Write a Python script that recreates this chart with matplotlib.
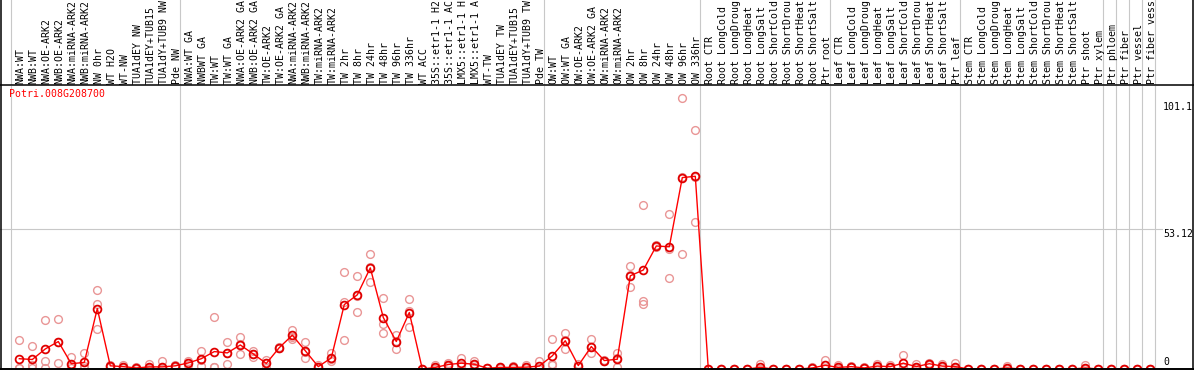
import matplotlib
matplotlib.use("Agg")
import matplotlib.pyplot as plt

plt.rcParams["font.family"] = "DejaVu Sans Mono"

# sample names, one per column (the header only has room for 14 characters)
labels = [
    "NWA:WT", "NWB:WT", "NWA:OE-ARK2", "NWB:OE-ARK2", "NWA:miRNA-ARK2", "NWB:miRNA-ARK2",
    "NW 0hr", "WT H2O", "WT-NW", "TUA1dEY NW", "TUA1dEY+TUB15 NW", "TUA1dY+TUB9 NW", "Pde NW",
    "NWA:WT GA", "NWBWT GA", "TW:WT", "TW:WT GA", "NWA:OE-ARK2 GA", "NWB:OE-ARK2 GA",
    "TW:OE-ARK2", "TW:OE-ARK2 GA", "NWA:miRNA-ARK2 GA", "NWB:miRNA-ARK2 GA", "TW:miRNA-ARK2",
    "TW:miRNA-ARK2 GA", "TW 2hr", "TW 8hr", "TW 24hr", "TW 48hr", "TW 96hr", "TW 336hr", "WT ACC",
    "35S::etr1-1 H2O", "35S::etr1-1 ACC", "LMX5::etr1-1 H2O", "LMX5::etr1-1 ACC", "WT-TW",
    "TUA1dEY TW", "TUA1dEY+TUB15 TW", "TUA1dY+TUB9 TW", "Pde TW",
    "OW:WT", "OW:WT GA", "OW:OE-ARK2", "OW:OE-ARK2 GA", "OW:miRNA-ARK2", "OW:miRNA-ARK2 GA",
    "OW 2hr", "OW 8hr", "OW 24hr", "OW 48hr", "OW 96hr", "OW 336hr",
    "Root CTR", "Root LongCold", "Root LongDrought", "Root LongHeat", "Root LongSalt",
    "Root ShortCold", "Root ShortDrought", "Root ShortHeat", "Root ShortSalt", "Ptr root",
    "Leaf CTR", "Leaf LongCold", "Leaf LongDrought", "Leaf LongHeat", "Leaf LongSalt",
    "Leaf ShortCold", "Leaf ShortDrought", "Leaf ShortHeat", "Leaf ShortSalt", "Ptr leaf",
    "Stem CTR", "Stem LongCold", "Stem LongDrought", "Stem LongHeat", "Stem LongSalt",
    "Stem ShortCold", "Stem ShortDrought", "Stem ShortHeat", "Stem ShortSalt", "Ptr shoot",
    "Ptr xylem", "Ptr phloem", "Ptr fiber", "Ptr vessel", "Ptr fiber vessel",
]

# mean expression per sample
means = [
    3.9, 3.6, 7.6, 10.4, 2.0, 2.5, 22.9, 1.2, 0.9, 0.4, 0.8, 0.8, 1.2,
    2.3, 3.9, 6.6, 6.1, 9.1, 5.7, 2.1, 8.1, 12.8, 6.9, 0.9, 4.2, 24.4, 28.1, 38.3, 19.5,
    10.4, 21.4, 0.0, 0.6, 1.7, 2.2, 1.8, 0.3, 0.6, 0.6, 0.7, 1.1,
    5.0, 10.7, 1.3, 8.5, 3.2, 3.7, 35.3, 37.5, 46.6, 46.3, 72.5, 73.0,
    0.0, 0.0, 0.0, 0.0, 0.6, 0.0, 0.0, 0.0, 0.4, 1.4,
    0.6, 0.9, 0.4, 1.1, 0.9, 2.2, 0.9, 2.0, 1.1, 0.9,
    0.0, 0.0, 0.0, 0.4, 0.0, 0.0, 0.0, 0.0, 0.0, 0.4, 0.0,
    0.0, 0.0, 0.0, 0.0,
]

# individual replicates
rep1 = [
    11.0, 8.8, 18.6, 19.0, 4.5, 6.1, 29.9, 1.5, 1.4, 0.8, 1.9, 3.0, 1.2,
    3.0, 7.0, 19.8, 10.4, 12.0, 6.7, 3.5, 8.5, 14.9, 10.3, 1.7, 6.0, 36.7, 35.2, 43.5, 26.9,
    12.9, 26.5, 0.0, 1.5, 2.4, 4.1, 3.1, 0.4, 0.9, 1.1, 1.5, 3.0,
    11.5, 13.8, 1.8, 11.2, 3.0, 6.1, 39.1, 62.1, 47.1, 58.7, 102.5, 90.4,
    0.0, 0.0, 0.0, 0.0, 1.8, 0.0, 0.0, 0.0, 0.8, 3.4,
    1.4, 1.1, 0.8, 1.8, 1.4, 5.3, 1.8, 2.4, 1.8, 2.2,
    0.0, 0.0, 0.0, 1.2, 0.0, 0.0, 0.0, 0.0, 0.0, 1.5, 0.0,
    0.0, 0.0, 0.0, 0.0,
]
rep2 = [
    0.4, 0.4, 3.1, 2.1, 0.4, 0.4, 24.6, 1.2, 0.9, 0.3, 0.4, 0.2, 1.5,
    2.3, 1.2, 0.9, 2.0, 5.7, 4.7, 0.4, 7.9, 11.2, 4.0, 0.6, 3.0, 11.0, 21.6, 32.8, 16.9,
    7.6, 15.8, 0.0, 0.2, 1.5, 1.5, 1.5, 0.3, 0.5, 0.4, 0.4, 0.2,
    2.0, 7.5, 1.1, 6.1, 3.4, 0.7, 31.2, 25.9, 46.2, 34.6, 43.7, 55.8,
    0.0, 0.0, 0.0, 0.0, 0.0, 0.0, 0.0, 0.0, 0.2, 0.4,
    0.3, 0.9, 0.2, 0.8, 0.8, 0.7, 0.5, 2.0, 0.8, 0.3,
    0.0, 0.0, 0.0, 0.0, 0.0, 0.0, 0.0, 0.0, 0.0, 0.0, 0.0,
    0.0, 0.0, 0.0, 0.0,
]
rep3 = [
    0.3, 1.6, 0.4, 10.1, 1.1, 1.0, 15.2, 0.9, 0.4, 0.1, 0.1, 0.1, 0.9,
    1.6, 3.5, 0.9, 6.0, 9.6, 5.7, 2.4, 7.9, 12.3, 6.4, 0.4, 3.6, 25.5, 27.5, 38.6, 13.7,
    10.7, 21.9, 0.0, 0.1, 1.2, 1.0, 0.8, 0.2, 0.4, 0.3, 0.2, 0.1,
    1.5, 10.8, 1.0, 8.2, 3.2, 4.3, 35.6, 24.5, 46.5, 45.6, 72.7, 72.8,
    0.0, 0.0, 0.0, 0.0, 0.0, 0.0, 0.0, 0.0, 0.2, 0.4,
    0.1, 0.7, 0.2, 0.7, 0.5, 0.6, 0.4, 1.6, 0.7, 0.2,
    0.0, 0.0, 0.0, 0.0, 0.0, 0.0, 0.0, 0.0, 0.0, 0.0, 0.0,
    0.0, 0.0, 0.0, 0.0,
]

group_starts = [0, 13, 41, 53, 63, 73, 84, 85, 86, 87, 88]
gene = "Potri.008G208700"
y_ticks = [0, 53.12, 101.1]

W, H = 1194, 370
x0, step = 19.3, 13.0      # pixel centre of first column, column width
zero_px, scale = 369.0, 2.64
fs = 7.1


def px2col(px):
    return (px - x0) / step


xs = list(range(len(means)))
xlim = (px2col(0), px2col(W))

fig = plt.figure(figsize=(W / 100, H / 100), dpi=100)

# plot area
ax = fig.add_axes([0, 0, 1, 284 / H])
ax.set_xlim(*xlim)
ax.set_ylim((zero_px - 370) / scale, (zero_px - 86) / scale)
ax.axis("off")

for g in group_starts:
    ax.axvline(g - 0.64, color="#c8c8c8", lw=0.8, zorder=1)
ax.plot([px2col(0), px2col(1162)], [y_ticks[1]] * 2, color="#c8c8c8", lw=0.8, zorder=1)

for rep in (rep1, rep2, rep3):
    ax.plot(xs, rep, ls="none", marker="o", ms=5.6, mfc="none", mec="#e99696", mew=1.0, zorder=2)
ax.plot(xs, means, color="red", lw=1.0, marker="o", ms=5.6, mfc="none", mec="#e00000",
        mew=1.3, zorder=3)

ax.text(px2col(1163), y_ticks[2], "101.1", fontsize=fs, va="top", ha="left")
ax.text(px2col(1163), y_ticks[1], "53.12", fontsize=fs, va="top", ha="left")
ax.text(px2col(1163), y_ticks[0] + 0.7, "0", fontsize=fs, va="bottom", ha="left")
ax.text(px2col(9), (zero_px - 94) / scale, gene, color="red", fontsize=fs,
        va="center", ha="left")

# header with sample names
hx = fig.add_axes([0, 285 / H, 1, 85 / H])
hx.set_xlim(*xlim)
hx.set_ylim(85, 0)
hx.axis("off")
for g in group_starts:
    hx.axvline(g - 0.64, color="#c8c8c8", lw=0.8)
for i, lab in enumerate(labels):
    hx.text(i + 0.1, 83.5, lab[:14].rstrip(), rotation=90, fontsize=fs, ha="center",
            va="bottom", clip_on=True)

# frame lines
ov = fig.add_axes([0, 0, 1, 1], facecolor="none")
ov.set_xlim(0, W)
ov.set_ylim(H, 0)
ov.axis("off")
ov.plot([0, W], [85, 85], color="black", lw=1.1)
ov.plot([0, W], [369, 369], color="black", lw=1.4)
ov.plot([1.2, 1.2], [0, H], color="black", lw=1.1)
ov.plot([1192.5, 1192.5], [0, H], color="black", lw=1.1)

fig.savefig("out.png", dpi=100)
